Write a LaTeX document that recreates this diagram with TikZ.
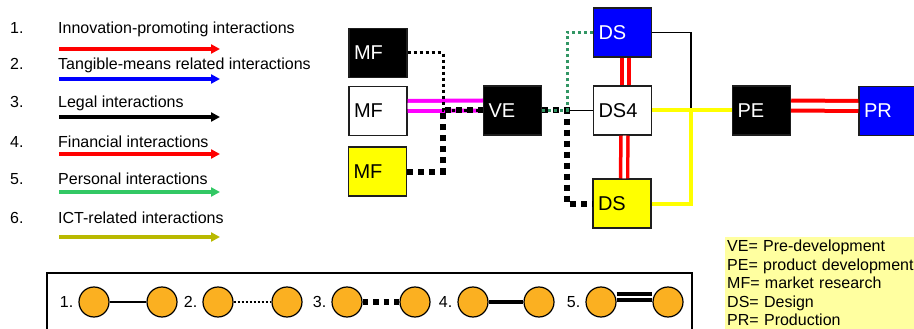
\documentclass[tikz,border=0pt]{standalone}
\usepackage{fontspec}
\setmainfont{Liberation Sans}
\usetikzlibrary{arrows.meta,positioning}
\newcommand\legfont{\fontsize{16}{18.5}\selectfont}
\newcommand\boxfont{\fontsize{20}{24}\selectfont}
\definecolor{node_gray}{RGB}{30,30,30}
\definecolor{node_yell}{RGB}{255,255,0}
\definecolor{node_blue}{RGB}{0,0,255}
\definecolor{node_orange}{RGB}{251,176,33}
\definecolor{key_yell}{RGB}{255,255,160}
\definecolor{edge_red}{RGB}{255,0,0}
\definecolor{edge_blue}{RGB}{0,0,255}
\definecolor{edge_green}{RGB}{50,200,100}
\definecolor{edge_olive}{RGB}{185,185,0}
\definecolor{edge_teal}{RGB}{50,150,100}
\definecolor{edge_magenta}{RGB}{255,0,255}
\definecolor{edge_yell}{RGB}{255,255,0}

\begin{document}
\begin{tikzpicture}[x=1pt,y=-1pt,>={Triangle[length=9pt,width=9pt]}]
    \tikzstyle{box}=[draw=node_gray, line width=1.4pt, rectangle, minimum width=58pt, minimum height=49pt, inner xsep=5pt, text width=48pt, align=left, font=\boxfont, text=black]
    \tikzstyle{bk}=[style=box, fill=black, text=white]
    \tikzstyle{wh}=[style=box, fill=white]
    \tikzstyle{ye}=[style=box, fill=node_yell]
    \tikzstyle{bl}=[style=box, fill=node_blue, text=white]
    \tikzstyle{leg}=[anchor=base west, inner sep=0pt, font=\legfont]
    \tikzstyle{ball}=[draw=black, line width=1.2pt, circle, minimum size=30pt, inner sep=0pt, fill=node_orange]
    \tikzstyle{num}=[inner sep=0pt, font=\legfont]
    \tikzstyle{dotline}=[line width=3pt, dash pattern=on 3pt off 3pt]
    \tikzstyle{sqline}=[line width=6pt, dash pattern=on 6pt off 5pt]
    \tikzstyle{twin}=[double distance=6pt, line width=4pt]

    \useasboundingbox (0,0) rectangle (914,329);
    \clip (0,0) rectangle (914,329);

    % legend of interactions
    \node[leg] (n1) at (10,33.5)  {1.};
    \node[leg] (n2) at (10,69.5)  {2.};
    \node[leg] (n3) at (10,108)   {3.};
    \node[leg] (n4) at (10,147)   {4.};
    \node[leg] (n5) at (10,184)   {5.};
    \node[leg] (n6) at (10,223)   {6.};
    \node[leg] (t1) at (58,33.5)  {Innovation-promoting interactions};
    \node[leg] (t2) at (58,69.5)  {Tangible-means related interactions};
    \node[leg] (t3) at (58,108)   {Legal interactions};
    \node[leg] (t4) at (58,147)   {Financial interactions};
    \node[leg] (t5) at (58,184)   {Personal interactions};
    \node[leg] (t6) at (58,223)   {ICT-related interactions};
    \draw[->, line width=3.5pt, edge_red]   (59,49)  -- (220,49);
    \draw[->, line width=3.5pt, edge_blue]  (59,79)  -- (220,79);
    \draw[->, line width=3.5pt, black]      (59,117) -- (220,117);
    \draw[->, line width=3.5pt, edge_red]   (59,154) -- (220,154);
    \draw[->, line width=3.5pt, edge_green] (59,192) -- (220,192);
    \draw[->, line width=3.5pt, edge_olive] (59,237) -- (220,237);

    % network
    \node[bk] (mf1) at (378,53)      {MF};
    \node[wh] (mf2) at (378,111)     {MF};
    \node[ye] (mf3) at (377.5,171.5) {MF};
    \node[bk] (ve)  at (512.5,110.5) {VE};
    \node[bl] (ds1) at (622.5,32.5)  {DS};
    \node[wh] (ds4) at (622.5,110.5) {DS4};
    \node[ye] (ds3) at (622,203.5)   {DS};
    \node[bk] (pe)  at (761.5,110.5) {PE};
    \node[bl] (pr)  at (888,111)     {PR};
    \coordinate (jl) at (443,110.5);
    \coordinate (jr) at (567,110.5);
    \coordinate (jy) at (691,110.5);

    \draw[twin, edge_magenta, double=white] ([yshift=5pt]mf2.east) -- ([yshift=5pt]ve.west);
    \draw[dotline] (mf1.east) -| (jl) -- (ve.west);
    \draw[sqline] (mf3.east) -| (jl) -- (ve.west);
    \draw[line width=1.2pt] (jr) -- (ds4.west);
    \draw[sqline] (ve.east) -- (jr) |- (ds3.west);
    \draw[dotline, edge_teal] (ve.east) -- (jr) |- (ds1.west);
    \draw[double distance=3.5pt, line width=3.5pt, edge_red, double=white] ([xshift=3pt]ds1.south) -- ([xshift=3pt]ds4.north);
    \draw[double distance=3.5pt, line width=3.5pt, edge_red, double=white] ([xshift=2pt]ds4.south) -- ([xshift=2pt]ds3.north);
    \draw[line width=1.2pt] (ds1.east) -| (jy);
    \draw[line width=4pt, edge_yell] (ds4.east) -- (pe.west);
    \draw[line width=4pt, edge_yell] (ds3.east) -| (jy);
    \draw[twin, edge_red, double=white] ([yshift=5pt]pe.east) -- ([yshift=5pt]pr.west);

    % abbreviations
    \node[anchor=north west, fill=key_yell, text width=200pt, align=left, inner xsep=2pt, inner ysep=3pt, font=\legfont] (key) at (725,237)
      {VE= Pre-development\\PE= product development\\MF= market research\\DS= Design\\PR= Production};

    % line types
    \draw[line width=2pt] (47,345) -- (47,273) -- (692,273) -- (692,345);
    \node[ball] (c1a) at (94,302)  {};
    \node[ball] (c1b) at (162,302) {};
    \node[ball] (c2a) at (218,302) {};
    \node[ball] (c2b) at (287,302) {};
    \node[ball] (c3a) at (347,302) {};
    \node[ball] (c3b) at (415,302) {};
    \node[ball] (c4a) at (473,302) {};
    \node[ball] (c4b) at (539,302) {};
    \node[ball] (c5a) at (601,302) {};
    \node[ball] (c5b) at (668,302) {};
    \node[num, left=5pt of c1a] (l1) {1.};
    \node[num, left=5pt of c2a] (l2) {2.};
    \node[num, left=5pt of c3a] (l3) {3.};
    \node[num, left=5pt of c4a] (l4) {4.};
    \node[num, left=5pt of c5a] (l5) {5.};
    \path
     (c1a) edge[line width=1.3pt] (c1b)
     (c2a) edge[line width=2pt, dash pattern=on 2pt off 2pt] (c2b)
     (c3a) edge[line width=5.5pt, dash pattern=on 5.5pt off 5pt] (c3b)
     (c4a) edge[line width=4pt] (c4b)
     ([yshift=5pt]c5a.east) edge[line width=4pt, double=white, double distance=1.5pt] ([yshift=5pt]c5b.west)
     ;
\end{tikzpicture}
\end{document}
